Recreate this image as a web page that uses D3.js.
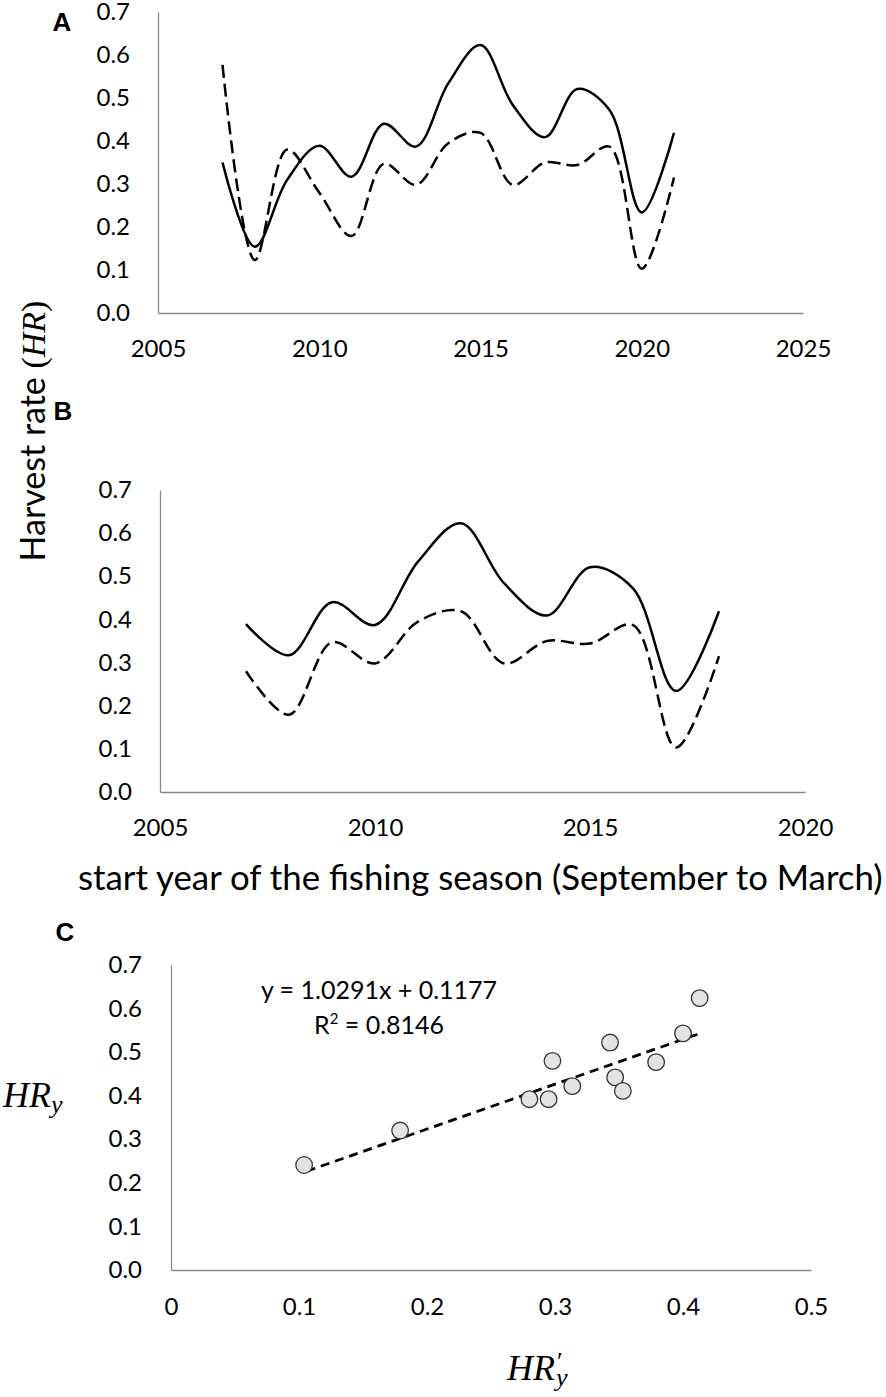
<!DOCTYPE html>
<html>
<head>
<meta charset="utf-8">
<title></title>
<style>
  body { margin: 0; background: #fff; }
  .tick text { font-family: Lato, "Open Sans", sans-serif; font-size: 24px; fill: #000; }
  .domain { stroke: #8a8a8a; stroke-width: 1.3px; }
</style>
</head>
<body>
<script src="https://d3js.org/d3.v7.min.js"></script>
<script>
var width = 886, height = 1397;

// panel A: 2007-2021
var yearsA = [2007, 2008, 2009, 2010, 2011, 2012, 2013, 2014, 2015, 2016, 2017, 2018, 2019, 2020, 2021];
var hrA    = [0.35, 0.154, 0.309, 0.389, 0.317, 0.44, 0.387, 0.534, 0.623, 0.484, 0.409, 0.521, 0.472, 0.234, 0.419];
var hrPA   = [0.577, 0.123, 0.38, 0.28, 0.179, 0.347, 0.298, 0.395, 0.419, 0.298, 0.35, 0.344, 0.387, 0.103, 0.315];
var xTicksA = [2005, 2010, 2015, 2020, 2025];

// panel B: 2007-2018
var yearsB = [2007, 2008, 2009, 2010, 2011, 2012, 2013, 2014, 2015, 2016, 2017, 2018];
var hrB    = [0.389, 0.317, 0.44, 0.387, 0.534, 0.623, 0.484, 0.409, 0.521, 0.472, 0.234, 0.419];
var hrPB   = [0.28, 0.179, 0.347, 0.298, 0.395, 0.419, 0.298, 0.35, 0.344, 0.387, 0.103, 0.315];
var xTicksB = [2005, 2010, 2015, 2020];

var yTicks = [0, 0.1, 0.2, 0.3, 0.4, 0.5, 0.6, 0.7];

// panel C: HR'y vs HRy
var scatX = [0.104, 0.179, 0.280, 0.295, 0.298, 0.3135, 0.343, 0.347, 0.353, 0.379, 0.400, 0.413];
var scatY = [0.241, 0.320, 0.392, 0.392, 0.480, 0.422, 0.522, 0.442, 0.411, 0.477, 0.543, 0.624];
var slope = 1.0291, intercept = 0.1177, r2 = 0.8146;
var trendX = [0.106, 0.415];
var xTicksC = [0, 0.1, 0.2, 0.3, 0.4, 0.5];

var svg = d3.select("body").append("svg")
    .attr("width", width)
    .attr("height", height);

var sans = "Lato, 'Open Sans', sans-serif";
var serif = "'Liberation Serif', 'DejaVu Serif', serif";

function linePanel(years, solid, dashed, xDom, xRange, yRange, xTicks) {
    var x = d3.scaleLinear().domain(xDom).range(xRange);
    var y = d3.scaleLinear().domain([0, 0.7]).range(yRange);
    var g = svg.append("g");

    g.append("g")
        .attr("transform", "translate(" + xRange[0] + ",0)")
        .call(d3.axisLeft(y).tickValues(yTicks).tickFormat(d3.format(".1f")).tickSize(0).tickPadding(28));
    g.append("g")
        .attr("transform", "translate(0," + yRange[0] + ")")
        .call(d3.axisBottom(x).tickValues(xTicks).tickFormat(d3.format("d")).tickSize(0).tickPadding(27));

    var line = d3.line()
        .x(function(d) { return x(d[0]); })
        .y(function(d) { return y(d[1]); })
        .curve(d3.curveCatmullRom.alpha(0.5));

    g.append("path")
        .datum(years.map(function(yr, i) { return [yr, dashed[i]]; }))
        .attr("fill", "none")
        .attr("stroke", "#000")
        .attr("stroke-width", 2.5)
        .attr("stroke-dasharray", "13,6")
        .attr("d", line);
    g.append("path")
        .datum(years.map(function(yr, i) { return [yr, solid[i]]; }))
        .attr("fill", "none")
        .attr("stroke", "#000")
        .attr("stroke-width", 2.5)
        .attr("d", line);
    return g;
}

linePanel(yearsA, hrA, hrPA, [2005, 2025], [158, 803], [313, 12], xTicksA);
linePanel(yearsB, hrB, hrPB, [2005, 2020], [160, 805], [792, 490], xTicksB);

// panel letters
[["A", 62, 31], ["B", 63, 420], ["C", 65, 941]].forEach(function(p) {
    svg.append("text")
        .attr("x", p[1]).attr("y", p[2])
        .attr("text-anchor", "middle")
        .attr("font-family", "'Liberation Sans', Arial, sans-serif")
        .attr("font-weight", "bold")
        .attr("font-size", 26)
        .text(p[0]);
});

// shared y title
var yt = svg.append("text")
    .attr("transform", "translate(45,431) rotate(-90)")
    .attr("text-anchor", "middle")
    .attr("font-size", 34)
    .attr("fill", "#000");
yt.append("tspan").attr("font-family", sans).text("Harvest rate ");
yt.append("tspan").attr("font-family", serif).text("(");
yt.append("tspan").attr("font-family", serif).attr("font-style", "italic").text("HR");
yt.append("tspan").attr("font-family", serif).text(")");

// shared x title, fitted to the reference width
var xt = svg.append("text")
    .attr("x", 78).attr("y", 890)
    .attr("font-family", sans)
    .attr("font-size", 30)
    .attr("fill", "#000")
    .text("start year of the fishing season (September to March)");
var len = xt.node().getComputedTextLength();
xt.attr("font-size", 30 * 805 / len);

// panel C
var xC = d3.scaleLinear().domain([0, 0.5]).range([171, 811]);
var yC = d3.scaleLinear().domain([0, 0.7]).range([1270, 965]);
var gC = svg.append("g");
gC.append("g")
    .attr("transform", "translate(171,0)")
    .call(d3.axisLeft(yC).tickValues(yTicks).tickFormat(d3.format(".1f")).tickSize(0).tickPadding(29));
gC.append("g")
    .attr("transform", "translate(0,1270)")
    .call(d3.axisBottom(xC).tickValues(xTicksC).tickFormat(function(d) { return d === 0 ? "0" : d3.format(".1f")(d); }).tickSize(0).tickPadding(28));

gC.append("path")
    .datum(trendX.map(function(v) { return [v, slope * v + intercept]; }))
    .attr("fill", "none")
    .attr("stroke", "#000")
    .attr("stroke-width", 2.8)
    .attr("stroke-dasharray", "9,6")
    .attr("d", d3.line().x(function(d) { return xC(d[0]); }).y(function(d) { return yC(d[1]); }));

gC.selectAll("circle")
    .data(scatX.map(function(v, i) { return [v, scatY[i]]; }))
    .enter()
    .append("circle")
    .attr("cx", function(d) { return xC(d[0]); })
    .attr("cy", function(d) { return yC(d[1]); })
    .attr("r", 8.3)
    .attr("fill", "#e3e3e3")
    .attr("stroke", "#333")
    .attr("stroke-width", 1.3);

gC.append("text")
    .attr("x", 379).attr("y", 999)
    .attr("text-anchor", "middle")
    .attr("font-family", sans)
    .attr("font-size", 25)
    .text("y = " + slope.toFixed(4) + "x + " + intercept.toFixed(4));
var rt = gC.append("text")
    .attr("x", 379).attr("y", 1034)
    .attr("text-anchor", "middle")
    .attr("font-family", sans)
    .attr("font-size", 25);
rt.append("tspan").text("R");
rt.append("tspan").attr("font-size", 15).attr("dy", -10).text("2");
rt.append("tspan").attr("dy", 10).text(" = " + r2.toFixed(4));

// HRy label
var hy = svg.append("text")
    .attr("x", 3).attr("y", 1107)
    .attr("font-family", serif)
    .attr("font-style", "italic")
    .attr("font-size", 36);
hy.append("tspan").text("HR");
hy.append("tspan").attr("font-size", 26).attr("dy", 6).text("y");

// HR'y label: prime above the subscript, in one text element
var hx = svg.append("text")
    .attr("x", 507).attr("y", 1380)
    .attr("font-family", serif)
    .attr("font-style", "italic")
    .attr("font-size", 36);
hx.append("tspan").text("HR");
var pr = hx.append("tspan").attr("font-size", 26).attr("font-style", "normal").attr("dx", 2).attr("dy", -10).text("\u2032");
var prw = pr.node().getComputedTextLength();
hx.append("tspan").attr("font-size", 26).attr("dx", -prw - 1).attr("dy", 16).text("y");
</script>
</body>
</html>
